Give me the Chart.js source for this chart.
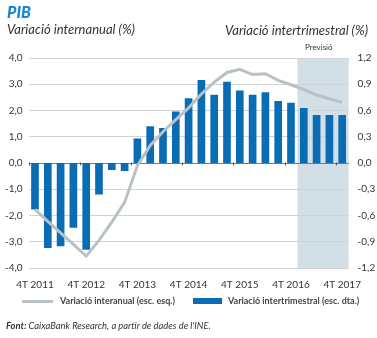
<!DOCTYPE html>
<html>
<head>
<meta charset="utf-8">
<script src="https://cdn.jsdelivr.net/npm/chart.js@4"></script>
<style>
  body { margin: 0; background: #fff; font-family: Lato, sans-serif; color: #333; }
  #wrap { position: relative; width: 377px; height: 338px; }
  canvas { position: absolute; left: 0; top: 0; }
  .txt { position: absolute; white-space: nowrap; }
  #titol { left: 7px; top: 2px; font-size: 16px; font-weight: 900; font-style: italic; color: #1a85cc; }
  #esq { left: 7px; top: 21px; font-size: 13px; font-style: italic; }
  #dta { right: 9px; top: 22px; font-size: 13px; font-style: italic; }
  #previsio { left: 305px; top: 42px; font-size: 8px; }
  .lleg { top: 295px; font-size: 9px; font-weight: bold; color: #444; }
  .mostra { position: absolute; }
  #font { left: 6px; top: 320px; font-size: 9.4px; font-style: italic; }
</style>
</head>
<body>
<div id="wrap">
  <canvas id="pib" width="377" height="338"></canvas>
  <div class="txt" id="titol">PIB</div>
  <div class="txt" id="esq">Variació internanual (%)</div>
  <div class="txt" id="dta">Variació intertrimestral (%)</div>
  <div class="txt" id="previsio">Previsió</div>
  <div class="mostra" style="left:22px; top:300px; width:31px; height:3px; background:#b8c2c6;"></div>
  <div class="txt lleg" style="left:60px;">Variació interanual (esc. esq.)</div>
  <div class="mostra" style="left:193px; top:298px; width:29px; height:6px; background:#0a6db3;"></div>
  <div class="txt lleg" style="left:228px;">Variació intertrimestral (esc. dta.)</div>
  <div class="txt" id="font"><b>Font:</b> CaixaBank Research, a partir de dades de l'INE.</div>
</div>
<script>
// trimestres 4T 2011 - 4T 2017
const trimestres = ['4T 2011',
  '1T 2012', '2T 2012', '3T 2012', '4T 2012',
  '1T 2013', '2T 2013', '3T 2013', '4T 2013',
  '1T 2014', '2T 2014', '3T 2014', '4T 2014',
  '1T 2015', '2T 2015', '3T 2015', '4T 2015',
  '1T 2016', '2T 2016', '3T 2016', '4T 2016',
  '1T 2017', '2T 2017', '3T 2017', '4T 2017'];

// variació interanual (escala esquerra)
const interanual = [-1.77, -2.22, -2.66, -3.1, -3.55, -2.95, -2.25, -1.5, -0.1, 0.67,
  1.19, 1.65, 2.1, 2.63, 3.08, 3.45, 3.57, 3.37, 3.4, 3.15, 2.98, 2.8, 2.59, 2.45, 2.31];

// variació intertrimestral (escala dreta)
const intertrimestral = [-0.53, -0.97, -0.95, -0.74, -0.99, -0.36, -0.08, -0.09, 0.28, 0.42,
  0.4, 0.59, 0.74, 0.95, 0.78, 0.93, 0.83, 0.78, 0.81, 0.71, 0.69, 0.63, 0.55, 0.55, 0.55];

const previsioInici = '1T 2017';

const coma = v => v.toFixed(1).replace('.', ',');

// zona de previsió ombrejada
const ombra = {
  id: 'ombra',
  beforeDraw(chart) {
    const { ctx, chartArea, scales } = chart;
    const i = trimestres.indexOf(previsioInici);
    const x0 = (scales.x.getPixelForValue(i - 1) + scales.x.getPixelForValue(i)) / 2;
    ctx.save();
    ctx.fillStyle = '#d3dfe7';
    ctx.fillRect(x0, chartArea.top, chartArea.right - x0, chartArea.bottom - chartArea.top);
    ctx.restore();
  },
  afterDraw(chart) {
    // petites marques sobre l'eix zero cada 4T
    const { ctx, scales } = chart;
    const y0 = Math.round(scales.y.getPixelForValue(0)) + 0.5;
    const amp = scales.x.getPixelForValue(1) - scales.x.getPixelForValue(0);
    ctx.save();
    ctx.strokeStyle = '#555';
    ctx.lineWidth = 1;
    trimestres.forEach((t, i) => {
      if (i % 4 !== 0) return;
      const x = Math.round(scales.x.getPixelForValue(i) - amp / 2) + 0.5;
      ctx.beginPath();
      ctx.moveTo(x, y0 - 1);
      ctx.lineTo(x, y0 + 2);
      ctx.stroke();
    });
    ctx.restore();
  }
};

new Chart(document.getElementById('pib'), {
  data: {
    labels: trimestres,
    datasets: [
      {
        type: 'line',
        label: 'Variació interanual (esc. esq.)',
        data: interanual,
        yAxisID: 'y',
        borderColor: '#b8c2c6',
        borderWidth: 3,
        pointRadius: 0,
        tension: 0,
        order: 0
      },
      {
        type: 'bar',
        label: 'Variació intertrimestral (esc. dta.)',
        data: intertrimestral,
        yAxisID: 'y1',
        backgroundColor: '#0a6db3',
        categoryPercentage: 1,
        barPercentage: 0.6,
        order: 1
      }
    ]
  },
  options: {
    responsive: false,
    animation: false,
    layout: { padding: { top: 58, bottom: 50, left: 0, right: 0 } },
    plugins: { legend: { display: false }, tooltip: { enabled: false } },
    scales: {
      x: {
        offset: true,
        grid: { display: false },
        border: { display: false },
        afterFit: s => { s.height = 20; },
        ticks: {
          autoSkip: false,
          maxRotation: 0,
          padding: 3,
          color: '#333',
          font: { family: 'Lato', size: 10 },
          callback: (v, i) => (i % 4 === 0 ? trimestres[i] : '')
        }
      },
      y: {
        position: 'left',
        min: -4,
        max: 4,
        afterFit: s => { s.width = 28.6; },
        grid: {
          drawTicks: false,
          color: c => (c.tick.value === 0 ? '#777' : '#d0d4d6'),
          lineWidth: 1
        },
        border: { display: false },
        ticks: {
          stepSize: 1,
          padding: 6,
          color: '#333',
          font: { family: 'Lato', size: 10 },
          callback: v => coma(v)
        }
      },
      y1: {
        position: 'right',
        min: -1.2,
        max: 1.2,
        afterFit: s => { s.width = 28.4; },
        grid: { display: false, drawTicks: false },
        border: { display: false },
        ticks: {
          stepSize: 0.3,
          padding: 9,
          color: '#333',
          font: { family: 'Lato', size: 10 },
          callback: v => coma(v)
        }
      }
    }
  },
  plugins: [ombra]
});
</script>
</body>
</html>
